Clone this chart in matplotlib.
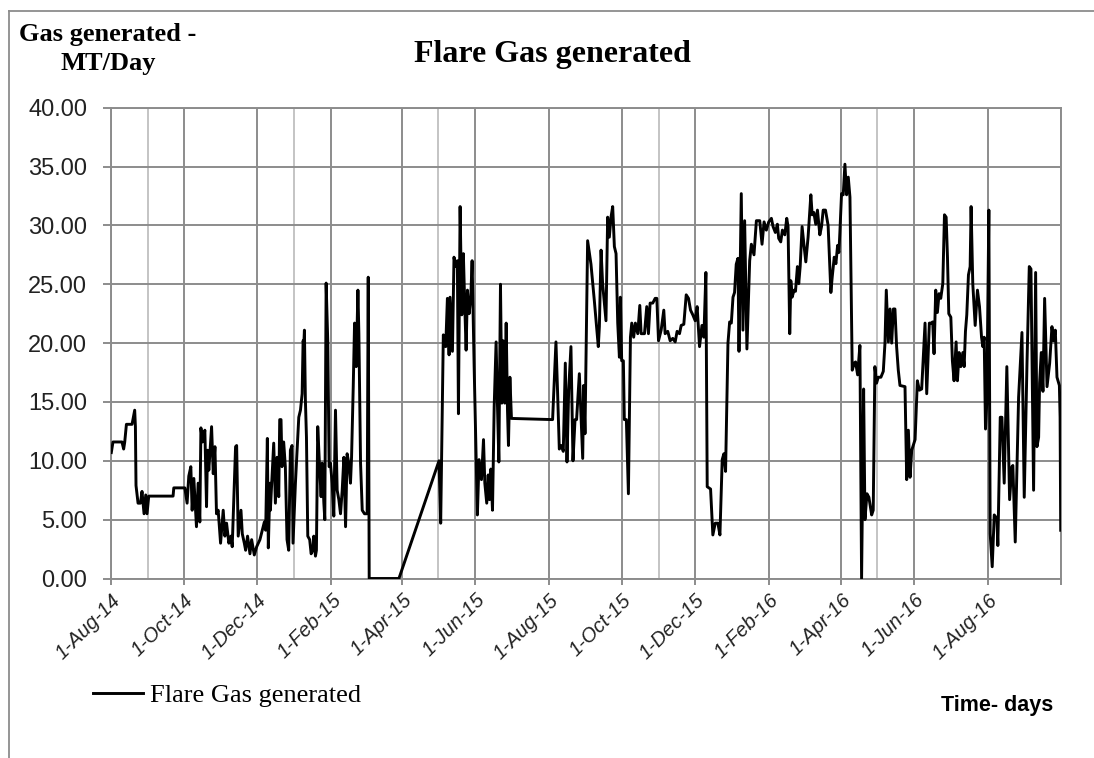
import matplotlib
matplotlib.use('Agg')
import matplotlib.pyplot as plt
from matplotlib.lines import Line2D
import numpy as np
import pandas as pd

start = pd.Timestamp('2014-08-01')
end = pd.Timestamp('2016-10-01')

# day offsets counted from 1-Aug-14 and flare gas in MT/day
days_2014 = [0.5, 1.9, 9.4, 10.8, 11.7, 13.1, 17.8, 20.0, 20.6, 21.1, 22.8, 24.8, 26.1, 27.8,
             29.2, 30.3, 31.7, 52.0, 52.6, 61.8, 63.7, 65.1, 66.8, 67.9, 69.3, 71.5, 72.9, 74.3,
             75.2, 76.5, 78.5, 79.9, 80.7, 81.8, 84.1, 85.5, 86.9, 88.2, 89.6, 91.6, 93.8, 95.2,
             96.6, 98.5, 100.2, 101.3, 104.1, 105.0, 106.3, 108.6, 109.7, 111.4, 112.5, 114.1,
             116.1, 117.5, 119.7, 121.7, 124.4, 128.1, 129.2, 130.6, 131.4, 132.8]
gas_2014 = [10.7, 11.6, 11.6, 11.0, 11.6, 13.1, 13.1, 14.3, 12.9, 7.9, 6.4, 6.4, 7.4, 5.5,
            7.1, 5.5, 7.0, 7.0, 7.7, 7.7, 6.4, 8.7, 9.5, 5.8, 8.5, 4.4, 8.1, 4.8,
            12.8, 11.6, 12.6, 6.1, 10.9, 9.2, 12.9, 8.9, 11.2, 5.5, 5.8, 3.0, 5.8, 3.6,
            4.7, 3.0, 3.6, 2.7, 11.2, 11.3, 3.6, 5.8, 3.8, 3.0, 2.4, 3.6,
            2.1, 3.3, 2.0, 2.7, 3.3, 4.8, 4.1, 11.9, 2.6, 8.1]

days_early15 = [133.1, 135.9, 137.3, 138.7, 140.1, 140.9, 142.0, 142.8, 144.2, 145.6, 147.0,
                148.4, 149.8, 151.2, 152.0, 154.0, 156.8, 158.2, 159.6, 160.4, 161.0, 161.5,
                162.3, 163.2, 164.3, 165.9, 167.1, 168.5, 169.3, 170.7, 171.5, 172.6, 174.0,
                175.4, 176.3, 177.7, 178.5, 179.6, 181.0, 182.1, 183.2, 184.6, 186.0, 187.4,
                188.8, 190.2, 191.6, 193.0, 194.4, 195.8, 197.1, 198.5, 199.9, 200.8, 202.2,
                203.3, 204.7, 206.1, 206.9, 208.3, 209.7, 211.6, 213.8, 214.7, 215.5, 240.3,
                273.7]
gas_early15 = [5.8, 11.5, 6.4, 10.3, 6.95, 13.5, 13.5, 9.5, 11.6, 9.5, 3.3,
               2.4, 10.9, 11.3, 3.0, 8.1, 13.7, 14.3, 15.7, 20.2, 19.9, 21.1,
               15.2, 12.0, 3.6, 3.3, 2.1, 2.4, 3.6, 1.9, 2.4, 12.9, 9.8,
               6.95, 9.8, 6.4, 5.0, 25.1, 20.0, 9.5, 9.8, 8.1, 5.3, 14.3,
               7.5, 6.7, 5.5, 7.5, 10.3, 4.4, 10.6, 9.8, 8.1, 10.3, 16.3,
               21.7, 18.0, 24.5, 20.8, 9.8, 5.8, 5.5, 5.5, 25.6, 0.0, 0.0,
               10.0]

days_mid15 = [275.1, 277.3, 279.3, 280.7, 282.1, 282.9, 284.9, 286.2, 287.6, 289.0, 289.9,
              291.3, 292.7, 294.0, 295.2, 296.3, 297.4, 298.8, 300.2, 301.3, 303.0, 304.3,
              305.7, 307.1, 309.1, 310.8, 311.9, 313.5, 314.7, 315.8, 316.9, 318.3, 319.7,
              321.3, 322.4, 323.6, 324.95, 326.1, 327.2, 328.6, 329.7, 330.8, 331.6, 332.8,
              334.1, 368.4, 371.2, 372.6, 374.0, 375.9, 377.3, 379.0, 380.4, 381.8, 383.7,
              385.4, 387.1, 388.4, 390.7, 392.1, 393.5, 394.3, 395.4, 397.6]
gas_mid15 = [4.7, 20.7, 19.7, 23.8, 19.0, 23.9, 19.3, 27.3, 26.5, 27.0, 14.0,
             31.6, 22.4, 27.6, 23.1, 19.4, 24.5, 22.5, 23.9, 27.0, 18.0, 11.8,
             5.4, 10.1, 8.4, 11.8, 8.1, 6.4, 8.8, 6.7, 9.3, 5.8, 14.6,
             20.1, 14.9, 9.9, 25.0, 14.9, 20.2, 14.9, 21.7, 14.3, 11.3, 17.1,
             13.6, 13.5, 20.1, 15.7, 11.0, 11.3, 10.8, 18.3, 9.9, 16.0, 19.7,
             10.0, 13.5, 13.5, 17.4, 13.7, 10.2, 16.4, 12.3, 28.7]

days_late15 = [400.4, 403.2, 406.5, 407.4, 408.8, 410.1, 412.9, 414.3, 415.7, 417.1, 418.5,
               419.9, 421.3, 422.7, 424.1, 424.9, 426.0, 427.4, 428.2, 429.9, 431.6, 433.3,
               434.4, 436.0, 437.4, 439.4, 441.1, 442.2, 445.0, 446.9, 448.3, 449.7, 451.9,
               453.9, 455.3, 456.7, 458.9, 461.1, 462.2, 464.4, 466.4, 468.6, 470.6, 472.2,
               474.2, 475.6, 477.8, 479.8, 481.7, 483.4, 485.3, 487.3, 488.9, 490.9, 492.9,
               494.5, 496.2, 497.3, 500.1, 502.0, 504.0, 506.2, 507.9, 509.8, 511.2, 512.6,
               514.6, 516.0, 517.4, 518.8, 520.1, 521.5, 522.9, 523.8, 525.7, 527.1, 528.5,
               530.4, 532.7]
gas_late15 = [26.7, 23.6, 19.7, 21.4, 27.9, 25.05, 21.9, 30.7, 29.0, 30.7, 31.6,
              28.2, 27.6, 21.7, 18.8, 23.9, 18.5, 18.5, 13.5, 13.5, 7.2, 20.5,
              21.7, 20.5, 21.7, 20.8, 23.2, 20.8, 20.8, 23.1, 20.8, 23.4, 23.4,
              23.8, 23.8, 20.2, 21.1, 22.8, 20.8, 21.0, 20.2, 20.4, 20.1, 21.0,
              20.8, 21.5, 21.6, 24.1, 23.8, 22.8, 22.4, 21.9, 23.1, 19.7, 21.5,
              20.5, 26.0, 7.8, 7.6, 3.7, 4.7, 4.7, 3.7, 10.1, 10.6, 9.1,
              20.0, 21.8, 21.7, 23.9, 24.3, 26.7, 27.2, 19.3, 32.7, 21.1, 30.4,
              19.5, 27.0]

days_early16 = [534.1, 536.3, 538.3, 541.1, 543.0, 544.7, 546.6, 548.6, 550.8, 552.2, 554.1,
                555.8, 556.9, 558.6, 560.0, 562.0, 563.6, 564.7, 566.1, 567.0, 568.1, 569.7,
                570.9, 572.5, 573.6, 574.8, 576.4, 578.1, 579.5, 581.4, 583.7, 584.8, 586.2,
                587.8, 589.2, 591.2, 592.6, 594.0, 595.9, 598.1, 600.4, 601.5, 603.2, 604.6,
                606.0, 607.1, 607.9, 609.3, 610.7, 612.1, 613.5, 614.9, 616.3, 618.2, 619.9,
                621.0, 622.7, 624.6, 626.0, 627.7, 628.8, 630.5, 632.1, 634.4, 635.7, 637.1,
                638.5, 639.9, 642.1, 644.1, 645.5, 646.6, 648.3, 649.7, 651.1, 652.5, 653.8,
                655.2, 656.6, 658.0, 662.2]
gas_early16 = [28.4, 27.5, 30.4, 30.4, 28.4, 30.3, 29.6, 30.3, 30.6, 29.9, 29.4,
               30.1, 28.9, 28.6, 29.6, 29.2, 30.6, 29.9, 20.8, 25.3, 23.9, 24.5,
               24.4, 26.5, 25.05, 26.5, 29.9, 28.2, 26.9, 29.0, 32.6, 30.9, 31.1,
               30.1, 31.3, 29.2, 29.9, 31.3, 31.3, 30.0, 24.3, 25.6, 27.3, 26.75,
               28.3, 27.7, 29.4, 32.7, 32.6, 35.2, 32.6, 34.1, 32.4, 17.7, 18.3,
               18.4, 17.3, 19.8, 0.0, 16.1, 5.0, 7.2, 6.9, 5.4, 5.8, 18.0,
               16.6, 17.1, 17.1, 17.6, 20.0, 24.5, 20.1, 22.9, 20.0, 22.9, 22.9,
               19.7, 17.7, 16.4, 16.3]

days_late16 = [663.6, 665.0, 666.4, 667.8, 670.6, 672.5, 674.2, 676.1, 678.9, 680.3, 682.5,
               683.9, 685.3, 686.4, 687.8, 689.2, 690.6, 692.0, 693.7, 695.1, 696.5, 697.6,
               698.7, 700.4, 701.7, 703.1, 704.8, 705.9, 707.3, 708.7, 710.4, 711.5, 712.6,
               713.7, 715.1, 716.5, 717.3, 718.7, 720.7, 722.6, 724.3, 726.0, 727.1, 728.2,
               729.3, 730.4, 732.1, 733.2, 734.9, 736.6, 738.8, 739.6, 741.6, 743.0, 744.9,
               747.1, 749.4, 751.3, 752.1, 754.1, 756.9, 759.7, 761.6, 763.9, 765.8, 767.2,
               769.4, 771.1, 772.2, 773.6, 774.4, 775.8, 777.2, 778.6, 780.6, 782.8, 784.7,
               786.1, 787.5, 788.9, 790.9, 791.5, 792.0]
gas_late16 = [8.4, 12.6, 8.6, 10.9, 11.8, 16.8, 16.0, 16.1, 21.7, 15.7, 21.7,
              21.7, 21.8, 19.1, 24.5, 22.6, 24.2, 23.8, 25.05, 30.9, 30.7, 27.3,
              22.5, 22.2, 18.5, 16.8, 20.1, 16.8, 19.2, 18.0, 19.2, 18.0, 21.0,
              22.4, 25.8, 26.5, 31.6, 25.05, 21.5, 24.5, 23.1, 20.5, 19.7, 20.5,
              12.7, 15.0, 31.3, 3.8, 1.0, 5.4, 5.1, 2.8, 13.7, 13.7, 8.1,
              18.0, 6.7, 9.5, 9.6, 3.1, 15.4, 20.9, 6.9, 18.3, 26.5, 26.3,
              7.5, 26.0, 11.2, 12.0, 16.6, 19.2, 15.9, 23.8, 16.3, 18.3, 21.4,
              20.2, 21.1, 17.1, 16.4, 13.7, 4.1]

tick_dates = pd.date_range(start, end, freq='2MS')
tick_labels = ['1-Aug-14', '1-Oct-14', '1-Dec-14', '1-Feb-15', '1-Apr-15', '1-Jun-15',
               '1-Aug-15', '1-Oct-15', '1-Dec-15', '1-Feb-16', '1-Apr-16', '1-Jun-16',
               '1-Aug-16', '']
light_months = pd.to_datetime(['2014-09-01', '2015-01-01', '2015-05-01',
                               '2015-11-01', '2016-05-01'])

days = np.concatenate([days_2014, days_early15, days_mid15, days_late15,
                       days_early16, days_late16])
gas = np.concatenate([gas_2014, gas_early15, gas_mid15, gas_late15,
                      gas_early16, gas_late16])
dates = start + pd.to_timedelta(days, unit='D')

W, H = 1094, 758
grid_c = '#8c8c8c'
serif = 'Liberation Serif'
sans = 'Liberation Sans'

fig = plt.figure(figsize=(W / 100, H / 100), dpi=100)
ax = fig.add_axes([110.7 / W, 1 - 578.5 / H, 950 / W, 470.8 / H])

for d in light_months:
    ax.axvline(d, color='#c4c4c4', lw=1.4, zorder=0)
ax.plot(dates, gas, color='black', lw=2.1, label='Flare Gas generated', zorder=3)

ax.set_xlim(start, end)
ax.set_ylim(0, 40)
ax.set_yticks(np.arange(0, 41, 5))
ax.set_yticklabels([f'{v:.2f}' for v in np.arange(0, 41, 5)], fontsize=17,
                   family=sans, color='#222222')
ax.set_xticks(tick_dates)
ax.set_xticklabels(tick_labels, rotation=45, ha='right', rotation_mode='anchor',
                   fontsize=14.5, family=sans, style='italic', color='#222222')
ax.grid(True, color=grid_c, lw=1.4)
ax.set_axisbelow(True)
for s in ax.spines.values():
    s.set_color(grid_c)
    s.set_linewidth(1.4)
ax.tick_params(axis='y', length=6, width=1.4, color=grid_c, pad=11)
ax.tick_params(axis='x', length=4.5, width=1.4, color=grid_c, pad=4)

fig.text(552 / W, 1 - 62 / H, 'Flare Gas generated', ha='center', va='baseline',
         fontsize=23, fontweight='bold', family=serif)
fig.text(108 / W, 1 - 41 / H, 'Gas generated -', ha='center', va='baseline',
         fontsize=19, fontweight='bold', family=serif)
fig.text(108 / W, 1 - 70 / H, 'MT/Day', ha='center', va='baseline',
         fontsize=19, fontweight='bold', family=serif)
fig.text(997 / W, 1 - 705 / H, 'Time- days', ha='center', va='center',
         fontsize=15.5, fontweight='bold', family=sans)

ax.legend(loc='center left', bbox_to_anchor=(93 / W, 1 - 695 / H),
          bbox_transform=fig.transFigure, frameon=False, borderpad=0,
          borderaxespad=0, handlelength=1.9, handletextpad=0.25,
          prop={'family': serif, 'size': 19})

# outer chart frame (only top and left edge fall inside the picture)
fig.add_artist(Line2D([9 / W, 1], [1 - 11 / H, 1 - 11 / H], transform=fig.transFigure,
                      color=grid_c, lw=1.3))
fig.add_artist(Line2D([9 / W, 9 / W], [0, 1 - 11 / H], transform=fig.transFigure,
                      color=grid_c, lw=1.3))

fig.savefig('out.png', dpi=100)
